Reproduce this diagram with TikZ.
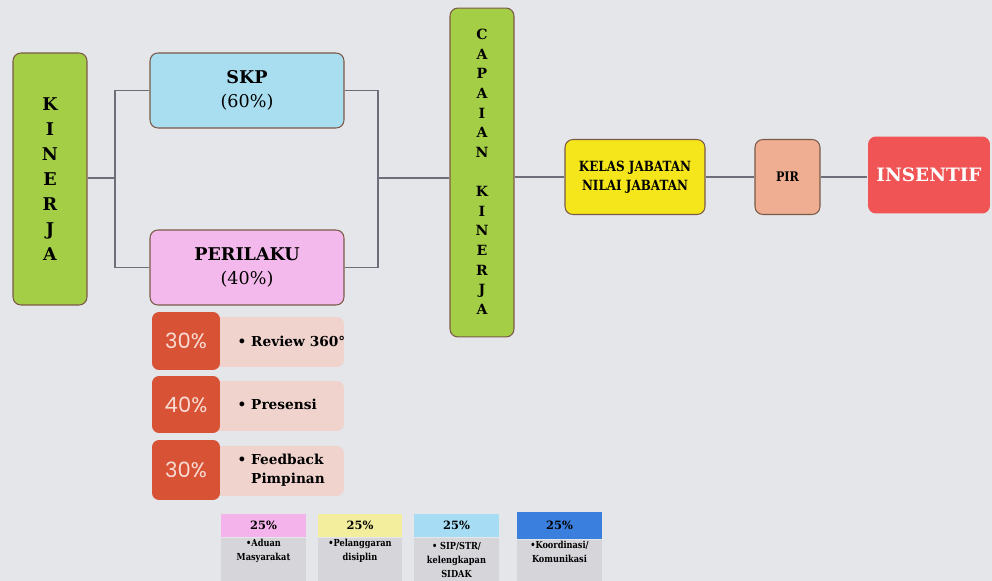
\documentclass[tikz,border=0pt]{standalone}
\usepackage{fontspec}
\setmainfont{DejaVu Serif}
\newfontfamily\condfont[FakeStretch=0.85]{DejaVu Serif}
\newfontfamily\pctfont{Poppins}
\usetikzlibrary{positioning}

\definecolor{paper}{HTML}{E5E6EA}
\definecolor{boxline}{HTML}{7A5A48}
\definecolor{linkgray}{HTML}{6E6E7A}
\definecolor{kgreen}{HTML}{A5CE47}
\definecolor{skpblue}{HTML}{A9DDF0}
\definecolor{perpink}{HTML}{F4B9EC}
\definecolor{kyellow}{HTML}{F5E51B}
\definecolor{pirsalmon}{HTML}{EFAE92}
\definecolor{insred}{HTML}{F05454}
\definecolor{wred}{HTML}{D85236}
\definecolor{wlight}{HTML}{EFD3CC}
\definecolor{wtext}{HTML}{F8DCD4}
\definecolor{legpink}{HTML}{F4B3EA}
\definecolor{legyellow}{HTML}{F2EE9E}
\definecolor{legblue}{HTML}{A6DCF4}
\definecolor{legdark}{HTML}{3A7FDD}
\definecolor{leggray}{HTML}{D6D6DA}

\begin{document}
\begin{tikzpicture}[x=0.02cm, y=-0.02cm,
	box/.style={draw=boxline, line width=0.6pt, rounded corners=4.5pt, align=center, inner sep=0pt},
	link/.style={draw=linkgray, line width=0.9pt},
	wbox/.style={fill=wred, rounded corners=4pt, minimum width=1.36cm, inner sep=0pt,
		text=wtext, font=\pctfont\fontsize{12}{14}\selectfont},
	lbox/.style={fill=wlight, rounded corners=4pt, minimum width=2.68cm, minimum height=1.0cm},
	itemtext/.style={align=left, inner sep=0pt, font=\fontsize{7.8}{11}\selectfont\bfseries},
	legtop/.style={minimum width=1.7cm, minimum height=0.46cm, inner sep=0pt,
		font=\fontsize{6.5}{8}\selectfont\bfseries},
	legbot/.style={fill=leggray, minimum width=1.7cm, minimum height=0.88cm, inner sep=0pt,
		align=center, font=\condfont\fontsize{5.5}{8}\selectfont\bfseries}]

	\fill[paper] (0,0) rectangle (992,581);
	\useasboundingbox (0,0) rectangle (992,581);

	% main boxes
	\node[box, fill=kgreen, minimum width=1.48cm, minimum height=5.04cm,
		font=\fontsize{10}{14.2}\selectfont\bfseries] (kinerja) at (50,179) {K\\I\\N\\E\\R\\J\\A};
	\node[box, fill=skpblue, minimum width=3.88cm, minimum height=1.5cm,
		font=\fontsize{10}{14}\selectfont] (skp) at (247,90.5) {\textbf{SKP}\\(60\%)};
	\node[box, fill=perpink, minimum width=3.88cm, minimum height=1.5cm,
		font=\fontsize{10}{14}\selectfont] (perilaku) at (247,267.5) {\textbf{PERILAKU}\\(40\%)};
	\node[box, fill=kgreen, minimum width=1.28cm, minimum height=6.58cm,
		font=\fontsize{8}{11.2}\selectfont\bfseries] (capaian) at (482,172.5)
		{\\[-6pt]C\\A\\P\\A\\I\\A\\N\\[11pt]K\\I\\N\\E\\R\\J\\A};
	\node[box, fill=kyellow, minimum width=2.8cm, minimum height=1.5cm,
		font=\condfont\fontsize{8}{11}\selectfont\bfseries] (kelas) at (635,177) {KELAS JABATAN\\NILAI JABATAN};
	\node[box, fill=pirsalmon, minimum width=1.3cm, minimum height=1.5cm,
		font=\condfont\fontsize{7.5}{9}\selectfont\bfseries] (pir) at (787.5,177) {PIR};
	\node[box, draw=none, fill=insred, minimum width=2.44cm, minimum height=1.54cm, text=white,
		font=\fontsize{10.5}{13}\selectfont\bfseries] (insentif) at (929,175) {INSENTIF};

	% connectors
	\coordinate (jl) at (115,178);
	\coordinate (jr) at (378,178);
	\draw[link] (kinerja.east |- jl) -- (jl);
	\draw[link] (skp.west) -| (jl) |- (perilaku.west);
	\draw[link] (skp.east) -| (jr) |- (perilaku.east);
	\draw[link] (jr) -- (jr -| capaian.west);
	\draw[link] (capaian.east |- kelas.west) -- (kelas.west);
	\draw[link] (kelas.east) -- (pir.west);
	\draw[link] (pir.east) -- (pir.east -| insentif.west);

	% perilaku parts
	\node[lbox] (d1) at (277,342) {};
	\node[lbox] (d2) at (277,406) {};
	\node[lbox] (d3) at (277,471) {};
	\node[wbox, minimum height=1.16cm] (w1) at (186,341) {30\%};
	\node[wbox, minimum height=1.14cm] (w2) at (186,404.5) {40\%};
	\node[wbox, minimum height=1.2cm] (w3) at (186,470) {30\%};
	\node[itemtext, right=0.34cm of w1] (t1) {\textbullet\ Review 360°};
	\node[itemtext, right=0.34cm of w2] (t2) {\textbullet\ Presensi};
	\node[itemtext, right=0.34cm of w3] (t3) {\textbullet\ Feedback\\\phantom{\textbullet\ }Pimpinan};

	% legend
	\node[legtop, fill=legpink] (g1) at (263.5,525.5) {25\%};
	\node[legtop, fill=legyellow] (g2) at (360,525.5) {25\%};
	\node[legtop, fill=legblue] (g3) at (456.5,525.5) {25\%};
	\node[legtop, fill=legdark, minimum height=0.54cm] (g4) at (559.5,525.5) {25\%};
	\node[legbot, below=0pt of g1] (b1) {\textbullet Aduan\\Masyarakat\\[3pt]};
	\node[legbot, below=0pt of g2] (b2) {\textbullet Pelanggaran\\disiplin\\[3pt]};
	\node[legbot, below=0pt of g3] (b3) {\textbullet\ SIP/STR/\\kelengkapan\\SIDAK};
	\node[legbot, below=0pt of g4] (b4) {\textbullet Koordinasi/\\Komunikasi\\[3pt]};
\end{tikzpicture}
\end{document}
